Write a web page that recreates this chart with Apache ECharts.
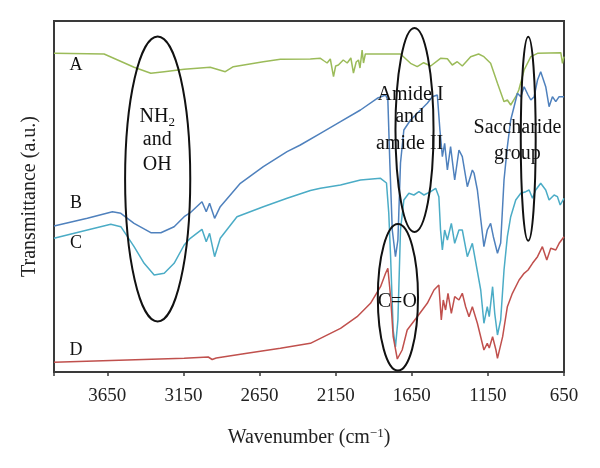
<!DOCTYPE html>
<html><head><meta charset="utf-8">
<script src="https://cdn.jsdelivr.net/npm/echarts@6/dist/echarts.min.js"></script>
<style>html,body{margin:0;padding:0;background:#fff}#c{width:600px;height:468px}</style>
</head><body><div id="c"></div>
<script>
// Wavenumber (cm-1) and transmittance (a.u.)
const xTicks = [3650, 3150, 2650, 2150, 1650, 1150, 650];
const seriesA = [[4000,318.7],[3671,318],[3474,304.7],[3364,298.7],[3276,300.3],[3145,302.7],[2974,304.7],[2875,300.3],[2822,305.3],[2625,310.3],[2513,312.7],[2316,313],[2250,313.7],[2225,311],[2206,309],[2185,313],[2164,295.3],[2150,306],[2132,307],[2100,312],[2074,309],[2050,314],[2033,299],[2015,310],[2000,312],[1990,304],[1976,322],[1967,309],[1955,318],[1943,317],[1901,318],[1724,318],[1658,308.7],[1614,305.3],[1572,309.3],[1526,306],[1461,313.7],[1416,313.3],[1384,307],[1351,310.3],[1318,306],[1263,315.3],[1211,318],[1176,315.3],[1132,308.7],[1087,288.7],[1044,270.3],[1022,272],[1000,267],[967,275.3],[947,282],[912,302],[868,315.3],[824,318.7],[671,319.3],[660,308.7],[650,315.3]];
const seriesB = [[4000,146],[3781,153.7],[3616,160.3],[3561,158.7],[3474,148.7],[3364,139.3],[3298,139.3],[3211,145.3],[3145,155.3],[3105,159.3],[3028,170.3],[3000,160.3],[2978,168.7],[2945,153.7],[2908,165.3],[2776,188.7],[2625,205.3],[2469,220.3],[2382,227],[2250,238.7],[2118,250.3],[1987,262],[1877,273.7],[1822,277],[1807,272],[1794,209],[1778,142],[1757,115.3],[1741,132],[1724,209],[1702,242],[1658,252],[1592,262],[1548,268.7],[1515,275.3],[1482,277],[1465,242],[1449,215.3],[1434,228.7],[1416,202],[1395,225.3],[1368,192],[1340,222],[1318,215.3],[1285,185.3],[1252,202],[1241,199],[1219,182],[1176,125.3],[1154,142],[1132,148.7],[1114,135.3],[1087,118.7],[1066,129],[1044,192],[1022,225.3],[1000,252],[978,265.3],[956,278.7],[934,275.3],[912,285.3],[886,277],[868,272],[846,275.3],[824,292],[803,300.3],[770,285.3],[748,265.3],[726,275.3],[704,270.3],[682,275.3],[650,275.3]];
const seriesC = [[4000,133.7],[3781,142],[3627,147.7],[3561,145.3],[3474,125.3],[3408,108.7],[3342,97],[3276,98.7],[3211,108.7],[3145,127],[3105,133.7],[3028,142.7],[3000,130.3],[2978,138.7],[2945,115.3],[2908,133.7],[2798,155.3],[2625,165.3],[2469,173.7],[2316,181.5],[2250,183.7],[2118,187],[1987,192],[1855,193.7],[1816,189],[1801,158.7],[1789,115.3],[1772,42],[1757,25],[1741,52],[1724,142],[1702,172],[1669,178.7],[1636,177],[1603,180.3],[1570,177],[1526,180.3],[1493,183.7],[1472,175.3],[1461,142],[1449,122],[1434,142],[1416,132],[1390,148.7],[1368,128.7],[1340,142],[1318,142],[1285,115.3],[1252,128.7],[1197,82],[1176,48.7],[1154,65.3],[1141,55.3],[1119,85.3],[1105,58.7],[1087,37],[1066,52],[1044,102],[1022,135.3],[1000,155.3],[967,172],[934,178.7],[901,180.3],[879,182],[857,173.7],[836,182],[803,188.7],[770,182],[748,172],[715,177],[693,175.3],[675,167],[650,173.7]];
const seriesD = [[4000,9.7],[3145,13.7],[2987,15],[2961,12.5],[2934,14],[2732,18.7],[2513,23.7],[2316,28.7],[2250,33.7],[2118,43.7],[2009,55.3],[1921,68.7],[1855,85.3],[1822,98.7],[1807,103.7],[1789,75.3],[1772,35.3],[1745,13],[1713,22],[1680,42],[1614,55.3],[1548,68.7],[1504,82],[1472,87],[1456,52],[1443,72],[1428,62],[1412,78.7],[1390,58.7],[1368,75.3],[1340,72],[1318,78.7],[1296,65.3],[1274,55.3],[1252,65.3],[1219,48.7],[1176,22],[1154,28.7],[1141,24],[1119,35.3],[1097,22],[1087,13.7],[1053,35.3],[1022,65.3],[989,78.7],[945,92],[912,98.7],[886,102],[857,108.7],[824,115.3],[792,125.3],[763,112],[737,123.7],[704,122],[682,128.7],[650,135.3]];
// Annotation ellipses: [centre wavenumber, centre value, half-width (cm-1), half-height]
const ellipses = [[3319,193,214,142.5],[1632,242,125,102],[885,233.3,49,102],[1741,74.7,132,73.3]];
// Curve letters: [wavenumber, value, text]
const curveLabels = [[3855,307,'A'],[3855,168.5,'B'],[3855,128.7,'C'],[3855,22,'D']];
// Annotation texts: [wavenumber, value, text]
const labels = [
  [3322,255.3,'{m|NH}{s|2}'],[3322,232,'and'],[3322,207,'OH'],
  [1658,277,'Amide I'],[1664,255.3,'and'],[1664,228.7,'amide II'],
  [956,244.7,'Saccharide'],[956,218.7,'group'],
  [1745,70.3,'C=O']
];
const FONT = '"Liberation Serif", "DejaVu Serif", serif';
const chart = echarts.init(document.getElementById('c'));
const mk = (name, data, color) => ({type:'line', name, data, showSymbol:false, symbol:'none', smooth:false,
  lineStyle:{color, width:1.5}, itemStyle:{color}, animation:false});
chart.setOption({
  animation:false,
  grid:{left:54, right:36, top:21, bottom:96, show:true, borderColor:'#3a3a3a', borderWidth:2},
  xAxis:{type:'value', inverse:true, min:650, max:4000, interval:500,
    axisLine:{show:true, lineStyle:{color:'#3a3a3a', width:2}},
    axisTick:{show:true, length:4, inside:false, lineStyle:{color:'#3a3a3a', width:1.5}},
    splitLine:{show:false}, showMaxLabel:false,
    axisLabel:{fontFamily:FONT, fontSize:19, color:'#222', margin:15,
      formatter: v => xTicks.includes(v) ? String(v) : ''},
    name:'Wavenumber (cm{sup|−1})', nameLocation:'middle', nameGap:55,
    nameTextStyle:{fontFamily:FONT, fontSize:20, color:'#222',
      rich:{sup:{fontFamily:FONT, fontSize:13, verticalAlign:'top', color:'#222', padding:[0,0,9,0]}}}},
  yAxis:{type:'value', min:0, max:351,
    axisLine:{show:true, lineStyle:{color:'#3a3a3a', width:2}},
    axisTick:{show:false}, axisLabel:{show:false}, splitLine:{show:false},
    name:'Transmittance (a.u.)', nameLocation:'middle', nameGap:14,
    nameTextStyle:{fontFamily:FONT, fontSize:20, color:'#222'}},
  series:[mk('A', seriesA, '#9BBB59'), mk('B', seriesB, '#4F81BD'), mk('C', seriesC, '#4BACC6'), mk('D', seriesD, '#C0504D')]
});
const px = (w, v) => chart.convertToPixel({gridIndex:0}, [w, v]);
const graphics = [];
ellipses.forEach(e => {
  const c = px(e[0], e[1]);
  const r = px(e[0] - e[2], e[1] + e[3]);
  graphics.push({type:'ellipse', z:100, shape:{cx:c[0], cy:c[1], rx:Math.abs(r[0]-c[0]), ry:Math.abs(c[1]-r[1])},
    style:{fill:'none', stroke:'#111', lineWidth:2}});
});
const addText = (l, size) => {
  const p = px(l[0], l[1]);
  graphics.push({type:'text', z:101, x:p[0], y:p[1], style:{text:l[2], fontFamily:FONT, fontSize:size, fill:'#111',
    align:'center', verticalAlign:'middle',
    rich:{m:{fontFamily:FONT, fontSize:size, fill:'#111'}, s:{fontFamily:FONT, fontSize:13, fill:'#111', padding:[11,0,0,0]}}}});
};
curveLabels.forEach(l => addText(l, 18));
labels.forEach(l => addText(l, 20));
chart.setOption({graphic:graphics});
</script></body></html>
